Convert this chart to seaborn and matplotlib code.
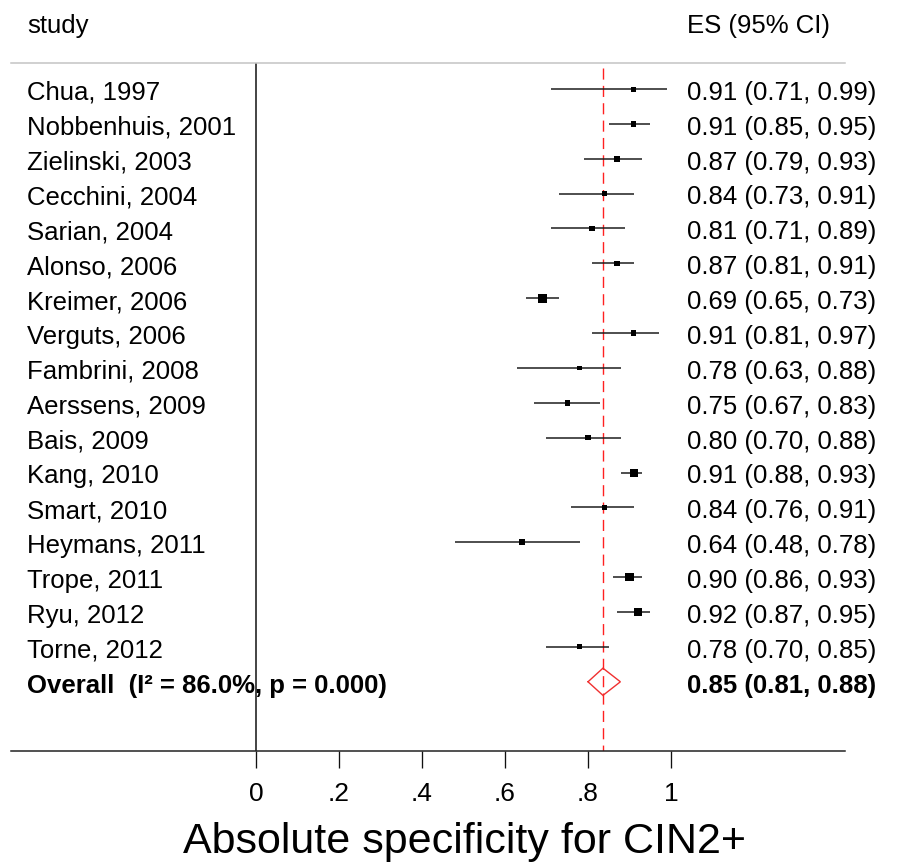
import numpy as np
import pandas as pd
import matplotlib
matplotlib.use("Agg")
import matplotlib.pyplot as plt
import seaborn as sns

# ---------------- data ----------------
studies = ["Chua, 1997", "Nobbenhuis, 2001", "Zielinski, 2003", "Cecchini, 2004",
           "Sarian, 2004", "Alonso, 2006", "Kreimer, 2006", "Verguts, 2006",
           "Fambrini, 2008", "Aerssens, 2009", "Bais, 2009", "Kang, 2010",
           "Smart, 2010", "Heymans, 2011", "Trope, 2011", "Ryu, 2012", "Torne, 2012"]
es = [0.91, 0.91, 0.87, 0.84, 0.81, 0.87, 0.69, 0.91, 0.78, 0.75, 0.80, 0.91,
      0.84, 0.64, 0.90, 0.92, 0.78]
ci_lo = [0.71, 0.85, 0.79, 0.73, 0.71, 0.81, 0.65, 0.81, 0.63, 0.67, 0.70, 0.88,
         0.76, 0.48, 0.86, 0.87, 0.70]
ci_hi = [0.99, 0.95, 0.93, 0.91, 0.89, 0.91, 0.73, 0.97, 0.88, 0.83, 0.88, 0.93,
         0.91, 0.78, 0.93, 0.95, 0.85]
# relative study weights (%)
weights = [4.0, 4.5, 6.0, 4.5, 4.5, 4.8, 13.0, 4.5, 3.5, 4.8, 4.5, 10.5,
           4.5, 5.5, 11.5, 9.0, 3.8]
# pooled estimate as printed
pooled_text = [0.85, 0.81, 0.88]
# pooled estimate as drawn (diamond / reference line position)
pooled_mark = [0.836, 0.80, 0.878]
overall_label = "Overall  (I\u00b2 = 86.0%, p = 0.000)"
xticks = [0, 0.2, 0.4, 0.6, 0.8, 1.0]
xtick_labels = ["0", ".2", ".4", ".6", ".8", "1"]
xlabel = "Absolute specificity for CIN2+"
header_left = "study"
header_right = "ES (95% CI)"

# ---------------- style ----------------
sns.set_style("white")
plt.rcParams["font.family"] = ["Liberation Sans", "DejaVu Sans"]
plt.rcParams["text.color"] = "black"
plt.rcParams["axes.labelcolor"] = "black"
plt.rcParams["xtick.color"] = "black"
plt.rcParams["xtick.labelcolor"] = "black"

df = pd.DataFrame({"study": studies, "es": es, "lo": ci_lo, "hi": ci_hi,
                   "weight": weights})
df["row"] = np.arange(len(df))
n = len(df)
overall_row = n

W, H = 901, 865
fig = plt.figure(figsize=(W / 100, H / 100), dpi=100)
ax = fig.add_axes([11 / W, (H - 751) / H, 834 / W, 688 / H])

fs = 18.5
line_col = "#1e1e1e"

# CI lines
ax.hlines(df["row"], df["lo"], df["hi"], color=line_col, lw=1.1, zorder=2)

# weight boxes (area proportional to weight)
sns.scatterplot(data=df, x="es", y="row", size="weight", sizes=(0, 324),
                size_norm=(0, 100), marker="s", color="black", linewidth=0,
                legend=False, ax=ax, zorder=3)

# null line at 0
ax.axvline(0, color="#111111", lw=1.1, zorder=1)

# pooled reference line
ylim_bottom = 18.985
ylim_top = -0.746
ax.vlines(pooled_mark[0], -0.60, ylim_bottom, color="#ff2020", lw=1.0,
          linestyles=[(0, (8, 4.5))], zorder=1)

# diamond
pe, plo, phi = pooled_mark
hh = 0.39
ax.plot([plo, pe, phi, pe, plo],
        [overall_row, overall_row - hh, overall_row, overall_row + hh, overall_row],
        color="#f03030", lw=1.0, zorder=4, solid_joinstyle="miter")

# text columns
x_left = (27 - 256) / 415
x_right = (687 - 256) / 415
dy = 0.11
for _, r in df.iterrows():
    ax.text(x_left, r["row"] + dy, r["study"], ha="left", va="center", fontsize=fs)
    ax.text(x_right, r["row"] + dy, f"{r['es']:.2f} ({r['lo']:.2f}, {r['hi']:.2f})",
            ha="left", va="center", fontsize=fs)
ax.text(x_left, overall_row + dy, overall_label, ha="left", va="center",
        fontsize=fs, fontweight="bold")
ax.text(x_right, overall_row + dy,
        f"{pooled_text[0]:.2f} ({pooled_text[1]:.2f}, {pooled_text[2]:.2f})",
        ha="left", va="center", fontsize=fs, fontweight="bold")

# headers
ax.text(x_left, -1.606, header_left, ha="left", va="baseline", fontsize=fs)
ax.text(x_right, -1.606, header_right, ha="left", va="baseline", fontsize=fs)

# axes
ax.set_xlim((11 - 256) / 415, (845 - 256) / 415)
ax.set_ylim(ylim_bottom, ylim_top)
ax.set_yticks([])
ax.set_ylabel("")
ax.set_xticks(xticks)
ax.set_xticklabels(xtick_labels, fontsize=19)
ax.tick_params(axis="x", direction="out", length=12.5, width=0.95,
               color="#111111", pad=10, bottom=True)
for s in ["left", "right"]:
    ax.spines[s].set_visible(False)
ax.spines["bottom"].set_color("#222222")
ax.spines["bottom"].set_linewidth(1.1)
ax.spines["top"].set_color("#c4c4c4")
ax.spines["top"].set_linewidth(1.1)
ax.set_xlabel(xlabel, fontsize=31)
ax.xaxis.set_label_coords((465 - 11) / 834, -(822 - 751) / 688)
ax.xaxis.label.set_va("top")

fig.savefig("out.png", dpi=100)
